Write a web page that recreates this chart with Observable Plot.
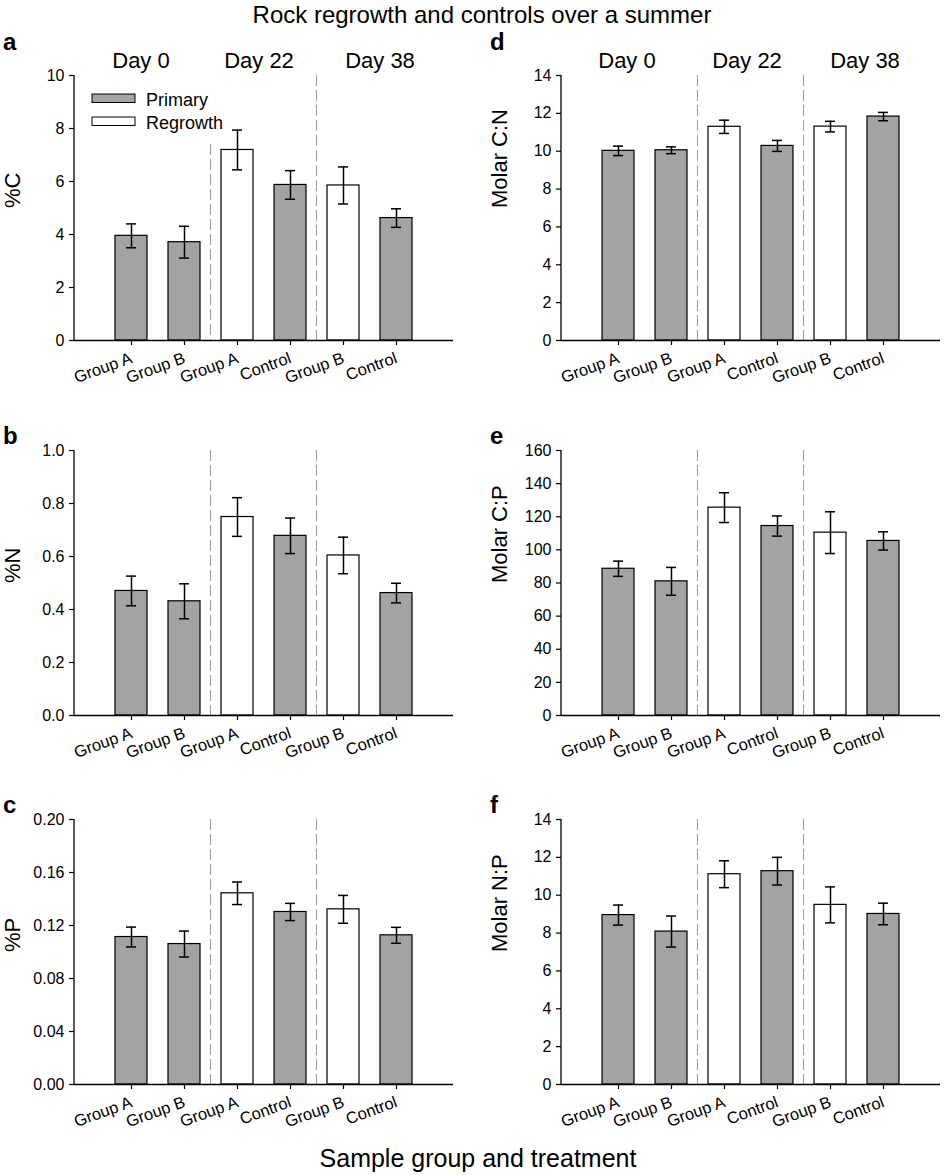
<!DOCTYPE html>
<html><head><meta charset="utf-8">
<script src="https://cdn.jsdelivr.net/npm/d3@7"></script>
<script src="https://cdn.jsdelivr.net/npm/@observablehq/plot@0.6"></script>
<style>
body{margin:0;background:#fff;}
#root{position:relative;width:944px;height:1175px;background:#fff;font-family:"Liberation Sans",Arial,sans-serif;color:#000;overflow:hidden}
.panel{position:absolute}
svg{overflow:visible}
#overlay{position:absolute;left:0;top:0;pointer-events:none}
</style></head><body><div id="root"></div>
<script>
// ---- data ----
const keys = ["d0-ga","d0-gb","d22-ga","d22-ctl","d38-gb","d38-ctl"];
const tickLabels = ["Group A","Group B","Group A","Control","Group B","Control"];
const barTypes = ["Primary","Primary","Regrowth","Primary","Regrowth","Primary"];
const dayLabels = ["Day 0","Day 22","Day 38"];
const legendLabels = ["Primary","Regrowth"];

const pctC    = [3.95, 3.71, 7.19, 5.87, 5.85, 4.62];
const pctCErr = [0.45, 0.60, 0.75, 0.54, 0.70, 0.35];
const pctN    = [0.470, 0.431, 0.749, 0.678, 0.604, 0.462];
const pctNErr = [0.056, 0.066, 0.073, 0.067, 0.069, 0.037];
const pctP    = [0.1113, 0.1060, 0.1443, 0.1302, 0.1322, 0.1126];
const pctPErr = [0.0075, 0.0098, 0.0085, 0.0065, 0.0105, 0.0060];
const molCN    = [10.02, 10.05, 11.29, 10.28, 11.30, 11.83];
const molCNErr = [0.25, 0.18, 0.35, 0.29, 0.28, 0.22];
const molCP    = [88.6, 81.0, 125.5, 114.4, 110.4, 105.4];
const molCPErr = [4.6, 8.4, 9.0, 6.1, 12.6, 5.5];
const molNP    = [8.95, 8.08, 11.11, 11.27, 9.49, 9.01];
const molNPErr = [0.53, 0.82, 0.71, 0.73, 0.95, 0.57];

const ticksC = [0, 2, 4, 6, 8, 10];
const ticksN = [0, 0.2, 0.4, 0.6, 0.8, 1.0];
const ticksP = [0, 0.04, 0.08, 0.12, 0.16, 0.20];
const ticksCN = [0, 2, 4, 6, 8, 10, 12, 14];
const ticksCP = [0, 20, 40, 60, 80, 100, 120, 140, 160];
const ticksNP = [0, 2, 4, 6, 8, 10, 12, 14];

const GRAY = "#a3a3a3";
const FONT = '"Liberation Sans", Arial, sans-serif';

const panels = [
  {letter:"a", yLabel:"%C", mean:pctC, err:pctCErr, ticks:ticksC, fmt:d3.format("d"), col:0, row:0, dashTop:[7.4, 10]},
  {letter:"b", yLabel:"%N", mean:pctN, err:pctNErr, ticks:ticksN, fmt:d3.format(".1f"), col:0, row:1},
  {letter:"c", yLabel:"%P", mean:pctP, err:pctPErr, ticks:ticksP, fmt:d3.format(".2f"), col:0, row:2},
  {letter:"d", yLabel:"Molar C:N", mean:molCN, err:molCNErr, ticks:ticksCN, fmt:d3.format("d"), col:1, row:0},
  {letter:"e", yLabel:"Molar C:P", mean:molCP, err:molCPErr, ticks:ticksCP, fmt:d3.format("d"), col:1, row:1},
  {letter:"f", yLabel:"Molar N:P", mean:molNP, err:molNPErr, ticks:ticksNP, fmt:d3.format("d"), col:1, row:2}
];

// ---- layout ----
const colLeft = [0, 470];
const colWidth = [470, 474];
const colMarginLeft = [74, 91];
const colMarginRight = [17, 4];
const rowTop = [30, 405, 774];
const MT = 45, PH = 265, MB = 60;

const root = document.getElementById("root");

function separators(p) {
  return (index, scales, values, dims) => {
    const g = d3.create("svg:g");
    const x = scales.x, y = scales.y;
    const bw = typeof x.bandwidth === "function" ? x.bandwidth() : (x.bandwidth || 0);
    const yMin = p.ticks[0], yMax = p.ticks[p.ticks.length - 1];
    g.append("line")
      .attr("x1", dims.marginLeft).attr("x2", dims.marginLeft)
      .attr("y1", y(yMax)).attr("y2", y(yMin))
      .attr("stroke", "black").attr("stroke-width", 1.3);
    const tops = p.dashTop || [yMax, yMax];
    [[1, 2], [3, 4]].forEach(([a, b], j) => {
      const xm = (x(keys[a]) + bw + x(keys[b])) / 2;
      g.append("line")
        .attr("x1", xm).attr("x2", xm)
        .attr("y1", y(tops[j])).attr("y2", y(yMin))
        .attr("stroke", "#a0a0a0").attr("stroke-width", 1.1)
        .attr("stroke-dasharray", "11,4");
    });
    return g.node();
  };
}

panels.forEach(p => {
  const data = keys.map((k, i) => ({
    key: k, type: barTypes[i], mean: p.mean[i],
    lo: p.mean[i] - p.err[i], hi: p.mean[i] + p.err[i]
  }));
  const yMax = p.ticks[p.ticks.length - 1];
  const chart = Plot.plot({
    width: colWidth[p.col],
    height: MT + PH + MB,
    marginLeft: colMarginLeft[p.col],
    marginRight: colMarginRight[p.col],
    marginTop: MT,
    marginBottom: MB,
    style: {fontFamily: FONT, fontSize: "16px", color: "black", background: "transparent", overflow: "visible"},
    x: {type: "band", domain: keys, paddingInner: 0.4, paddingOuter: 0.72},
    y: {domain: [0, yMax]},
    color: {domain: legendLabels, range: [GRAY, "#ffffff"]},
    marks: [
      Plot.barY(data, {x: "key", y: "mean", fill: "type", stroke: "black", strokeWidth: 1.2}),
      Plot.ruleX(data, {x: "key", y1: "lo", y2: "hi", stroke: "black", strokeWidth: 1.5}),
      Plot.tickY(data, {x: "key", y: "hi", insetLeft: 11, insetRight: 11, stroke: "black", strokeWidth: 1.5}),
      Plot.tickY(data, {x: "key", y: "lo", insetLeft: 11, insetRight: 11, stroke: "black", strokeWidth: 1.5}),
      separators(p),
      Plot.ruleY([0], {stroke: "black", strokeWidth: 1.3}),
      Plot.axisY({ticks: p.ticks, tickFormat: p.fmt, tickSize: 5, tickPadding: 5, fontSize: 16, label: null, strokeWidth: 1.2}),
      Plot.axisX({tickFormat: k => tickLabels[keys.indexOf(k)], tickRotate: -20, tickSize: 5, tickPadding: 12, fontSize: 16.5, label: null, strokeWidth: 1.2}),
      Plot.text([p.yLabel], {text: d => d, frameAnchor: "left", dx: -62, rotate: -90, fontSize: 22})
    ]
  });
  const div = document.createElement("div");
  div.className = "panel";
  div.style.left = colLeft[p.col] + "px";
  div.style.top = rowTop[p.row] + "px";
  div.appendChild(chart);
  root.appendChild(div);
});

// ---- overlay texts ----
const ov = d3.select(root).append("svg").attr("id", "overlay")
  .attr("width", 944).attr("height", 1175)
  .style("font-family", FONT);

ov.append("text").attr("x", 482).attr("y", 23).attr("text-anchor", "middle")
  .attr("font-size", 24).text("Rock regrowth and controls over a summer");
ov.append("text").attr("x", 478).attr("y", 1167).attr("text-anchor", "middle")
  .attr("font-size", 25).text("Sample group and treatment");

const letterPos = {a:[3,50], b:[3,444], c:[3,813], d:[490,50], e:[490,444], f:[490,813]};
panels.forEach(p => {
  const [lx, ly] = letterPos[p.letter];
  ov.append("text").attr("x", lx).attr("y", ly).attr("font-size", 24)
    .attr("font-weight", "bold").text(p.letter);
});

const dayX = [[141, 259, 380], [627, 747, 865]];
dayX.forEach(xs => xs.forEach((x, i) => {
  ov.append("text").attr("x", x).attr("y", 68).attr("text-anchor", "middle")
    .attr("font-size", 22).text(dayLabels[i]);
}));

const legFill = [GRAY, "#ffffff"];
legendLabels.forEach((lab, i) => {
  const y = 94 + i * 23;
  ov.append("rect").attr("x", 92).attr("y", y).attr("width", 43).attr("height", 8.5)
    .attr("fill", legFill[i]).attr("stroke", "black").attr("stroke-width", 1);
  ov.append("text").attr("x", 146).attr("y", y + 11.5).attr("font-size", 18).text(lab);
});
</script></body></html>
